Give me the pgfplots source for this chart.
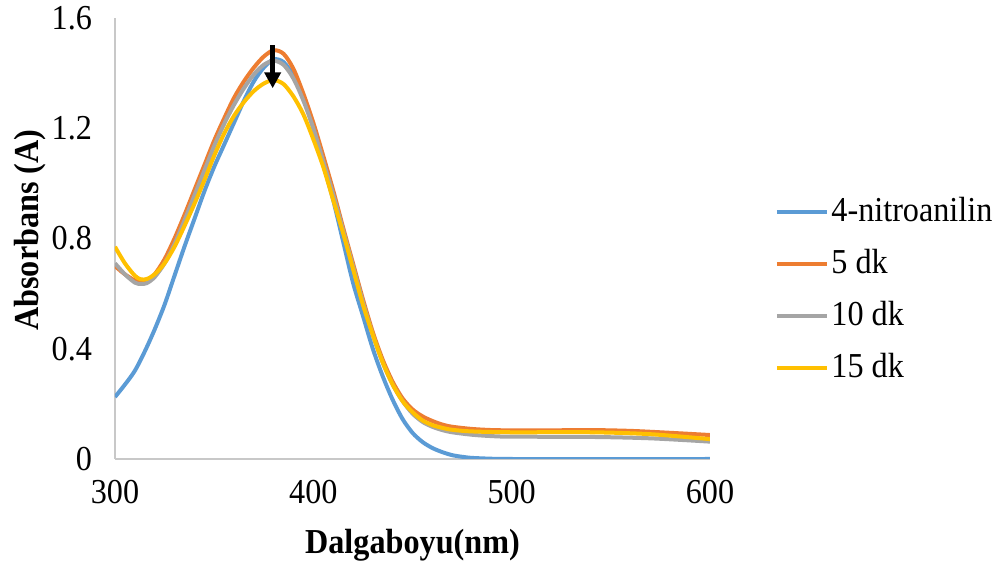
\documentclass[border=0pt]{standalone}
\usepackage{fontspec}
\setmainfont{Liberation Serif}[FakeStretch=0.92]
\usepackage{pgfplots}
\pgfplotsset{compat=1.18}
\usetikzlibrary{arrows.meta}
\definecolor{cblue}{HTML}{5B9BD5}
\definecolor{corange}{HTML}{ED7D31}
\definecolor{cgray}{HTML}{A5A5A5}
\definecolor{cyellow}{HTML}{FFC000}
\definecolor{caxis}{HTML}{C8C8C8}
\begin{document}
\begin{tikzpicture}
\path[use as bounding box] (-57.5pt,-51.5pt) rectangle (441.5pt,229.5pt);
\begin{axis}[
  at={(0,0)}, anchor=south west,
  scale only axis, width=297.5pt, height=220.5pt,
  xmin=300, xmax=600, ymin=0, ymax=1.6,
  axis lines=left,
  axis line style={draw=caxis, line width=0.75pt, -},
  xtick={300,400,500,600},
  ytick={0,0.4,0.8,1.2,1.6},
  yticklabels={0,0.4,0.8,1.2,1.6},
  major tick length=0pt,
  /pgf/number format/assume math mode=true,
  tick label style={font=\fontsize{17.5}{20}\selectfont},
  xticklabel style={yshift=-7pt},
  yticklabel style={xshift=-8pt},
  xlabel={Dalgaboyu(nm)},
  ylabel={Absorbans (A)},
  label style={font=\fontsize{17.5}{20}\selectfont\bfseries},
  xlabel style={at={(axis description cs:0.5,-0.195)}, anchor=center},
  ylabel style={at={(axis description cs:-0.143,0.519)}, anchor=center},
  legend style={draw=none, fill=none, at={(axis description cs:1.109,0.383)}, anchor=west,
    font=\fontsize{17.5}{20}\selectfont, inner sep=0pt, row sep=8pt,
    nodes={inner sep=1.5pt, text height=12pt, text depth=3pt}},
  legend cell align=left,
  legend image code/.code={\draw[#1, line width=1.6pt] (0pt,0pt) -- (25pt,0pt);},
  every axis plot/.append style={line width=2pt, smooth, tension=0.5},
]
\addplot[cblue] coordinates {
(300,0.225)(305,0.27)(310,0.32)(315,0.39)(320,0.47)(325,0.56)(330,0.665)(335,0.77)(340,0.87)(345,0.97)(350,1.06)(355,1.14)(360,1.22)(365,1.30)(370,1.37)(375,1.42)(380,1.45)(385,1.44)(390,1.39)(395,1.31)(400,1.20)(405,1.07)(410,0.94)(415,0.79)(420,0.64)(425,0.52)(430,0.40)(435,0.30)(440,0.215)(445,0.145)(450,0.095)(455,0.062)(460,0.04)(465,0.025)(470,0.014)(475,0.008)(480,0.004)(490,0.001)(500,0)(600,0)
};
\addlegendentry{4-nitroanilin}
\addplot[corange] coordinates {
(300,0.70)(305,0.67)(310,0.648)(313,0.643)(316,0.646)(320,0.67)(325,0.725)(330,0.80)(335,0.885)(340,0.975)(345,1.065)(350,1.155)(355,1.235)(360,1.31)(365,1.37)(370,1.42)(375,1.46)(380,1.483)(385,1.47)(390,1.415)(395,1.325)(400,1.22)(405,1.10)(410,0.975)(415,0.84)(420,0.71)(425,0.58)(430,0.46)(435,0.36)(440,0.28)(445,0.22)(450,0.18)(455,0.155)(460,0.138)(465,0.125)(470,0.117)(480,0.109)(490,0.105)(500,0.104)(520,0.104)(540,0.105)(560,0.102)(580,0.095)(600,0.087)
};
\addlegendentry{5 dk}
\addplot[cgray] coordinates {
(300,0.71)(305,0.67)(310,0.64)(313,0.635)(316,0.638)(320,0.66)(325,0.71)(330,0.78)(335,0.865)(340,0.955)(345,1.045)(350,1.135)(355,1.215)(360,1.285)(365,1.345)(370,1.395)(375,1.43)(380,1.445)(385,1.43)(390,1.38)(395,1.30)(400,1.20)(405,1.08)(410,0.96)(415,0.83)(420,0.70)(425,0.57)(430,0.45)(435,0.35)(440,0.27)(445,0.21)(450,0.165)(455,0.135)(460,0.117)(465,0.105)(470,0.097)(480,0.088)(490,0.083)(500,0.081)(540,0.08)(570,0.075)(600,0.063)
};
\addlegendentry{10 dk}
\addplot[cyellow] coordinates {
(300,0.77)(305,0.71)(310,0.665)(313,0.652)(316,0.653)(320,0.67)(325,0.71)(330,0.77)(335,0.845)(340,0.925)(345,1.01)(350,1.10)(355,1.18)(360,1.245)(365,1.295)(370,1.335)(375,1.362)(380,1.375)(385,1.36)(390,1.315)(395,1.25)(400,1.16)(405,1.06)(410,0.94)(415,0.82)(420,0.69)(425,0.56)(430,0.45)(435,0.35)(440,0.27)(445,0.21)(450,0.17)(455,0.14)(460,0.123)(465,0.113)(470,0.106)(480,0.1)(500,0.097)(540,0.097)(570,0.09)(600,0.072)
};
\addlegendentry{15 dk}
\draw[black, line width=2.8pt, -{Triangle[width=8pt,length=8pt]}] (axis cs:379.5,1.502) -- (axis cs:379.5,1.345);
\end{axis}
\end{tikzpicture}
\end{document}
